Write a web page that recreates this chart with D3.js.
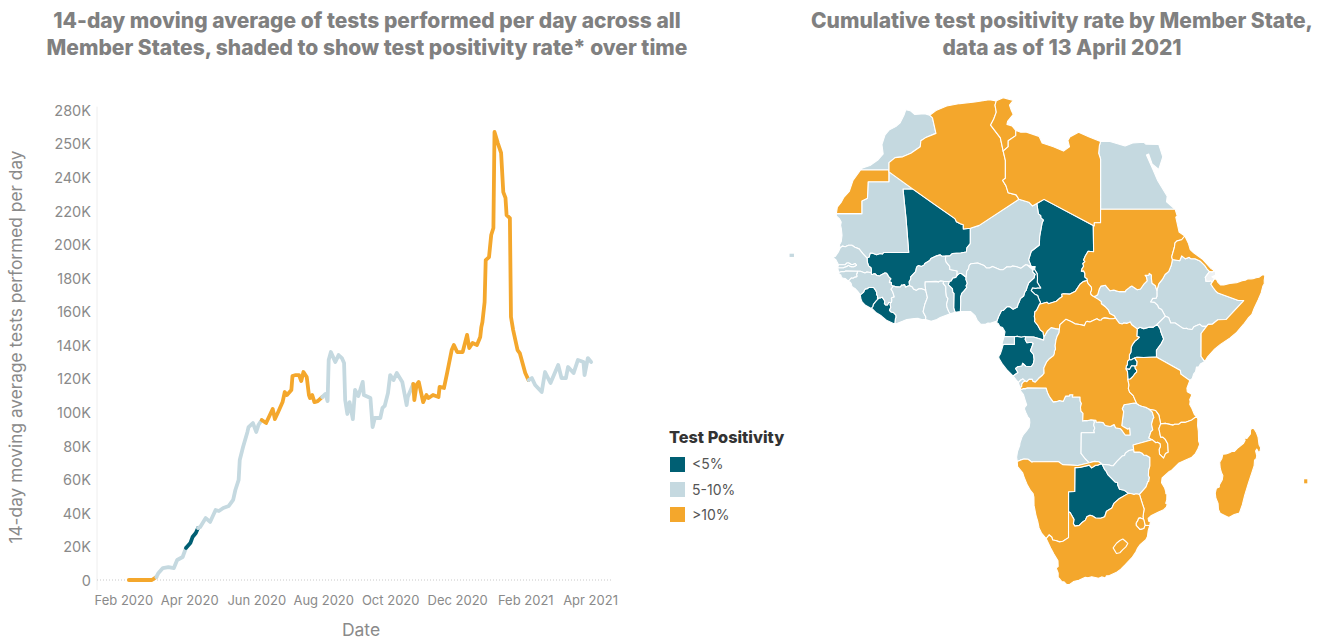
<!DOCTYPE html>
<html><head><meta charset="utf-8">
<script src="https://cdn.jsdelivr.net/npm/d3@7"></script>
<style>
html,body{margin:0;padding:0;background:#fff;overflow:hidden}
svg{display:block}
text{font-family:"Inter","Liberation Sans",sans-serif}
</style></head><body><svg id="c" width="1327" height="639"></svg>
<script>
// ---------- line chart data ----------
const chartStart = "2020-02-01";
const days = [5,26,30,32,36,41,46,49,54,57,61,63,66,68,70,75,79,84,87,91,96,100,102,105,106,109,113,114,118,121,123,126,130,136,138,141,145,147,149,153,154,157,160,162,164,167,169,170,172,174,177,181,184,186,187,189,193,196,199,201,202,204,206,209,211,214,218,219,223,225,227,229,234,236,238,241,243,246,249,254,258,259,264,265,267,269,273,276,278,282,287,288,292,295,299,301,304,309,313,315,318,322,325,326,327,329,330,333,335,337,338,341,344,346,348,349,352,353,355,359,361,366,369,372,375,381,384,389,396,399,403,405,410,414,419,420,423,426];
const tests = [0,0,1800,4200,7100,7700,7100,11900,13700,19100,22000,25600,28000,31000,31600,36900,34600,41700,41100,42900,44100,47700,53600,59600,71500,79200,88200,91100,93500,88200,92300,95300,93500,101900,95900,100100,106000,112000,110200,113200,121500,122100,122100,118500,123900,120900,110200,108400,110200,106000,106600,109000,110800,106600,131100,135800,129900,134000,132200,129300,107200,98900,106000,95900,113200,109600,118000,110200,109000,108400,91100,96500,96500,102500,103700,111400,122100,119100,123300,118000,104200,109000,116800,107200,116200,118000,106000,110200,108400,110200,109000,115000,114400,123900,137000,140000,135800,135800,146000,138200,141200,140000,144800,150700,153700,165600,190600,192400,205500,209700,266900,260300,254400,231100,227600,217400,215600,156700,148900,137000,135200,123300,119100,120300,116200,112000,123900,117400,128100,120300,120300,126900,123300,131100,129900,122100,132200,129900];
const bandBreaks = [[0,">10%"],[31,"5-10%"],[58,"<5%"],[69,"5-10%"],[127,">10%"],[182,"5-10%"],[265,">10%"],[370,"5-10%"]];
const yTicks = [0,20000,40000,60000,80000,100000,120000,140000,160000,180000,200000,220000,240000,260000,280000];
const yTickLabels = ["0","20K","40K","60K","80K","100K","120K","140K","160K","180K","200K","220K","240K","250K","280K"];
const xTicks = ["2020-02-01","2020-04-01","2020-06-01","2020-08-01","2020-10-01","2020-12-01","2021-02-01","2021-04-01"];
const bands = ["<5%","5-10%",">10%"];
const bandColors = ["#005f73","#c5d9e0","#f4a72c"];

// ---------- map data (lon, lat) ----------
const westernSahara=[[-13.2,27.67],[-8.7,27.67],[-8.7,26],[-12,26],[-12.1,23.6],[-13,23.2],[-13,21.35],[-17.05,21.35],[-16.9,22.3],[-16.3,23],[-15.9,23.7],[-15,24.6],[-14.4,26.2]];
const morocco=[[-6,35.8],[-5.3,35.7],[-4.6,35.2],[-3,35.3],[-2.2,35.1],[-1.75,34.75],[-1.2,32.7],[-2.9,32.1],[-3.6,31.7],[-3.7,30.9],[-5.2,30],[-6.5,29.5],[-7.7,29.4],[-8.67,28.7],[-8.67,27.67],[-13.2,27.67],[-12.9,27.95],[-11.7,28.3],[-10.4,29.1],[-9.6,29.9],[-9.8,31.2],[-9.3,32.5],[-8.6,33.2],[-7.6,33.6],[-6.9,34.1],[-6.3,35.1]];
const algeria=[[-2.2,35.1],[-1.2,35.7],[0.5,36.3],[2.6,36.6],[5,36.8],[7.3,37.1],[8.4,36.95],[8.2,36.4],[8.4,35.5],[8,34.6],[7.5,33.8],[9.05,32.1],[9.5,30.3],[9.85,29],[9.85,26.5],[9.4,26.2],[9.95,25.4],[10.3,24.4],[11.56,24.1],[12,23.47],[5.68,19.6],[4.27,19.16],[3.16,19.06],[3.15,19.69],[2.68,19.86],[2.06,20.14],[1.82,20.61],[-1.55,22.79],[-4.92,24.97],[-8.67,27.4],[-8.67,28.7],[-7.7,29.4],[-6.5,29.5],[-5.2,30],[-3.7,30.9],[-3.6,31.7],[-2.9,32.1],[-1.2,32.7],[-1.75,34.75]];
const tunisia=[[8.4,36.95],[9.5,37.35],[10.2,37.2],[11.1,37],[10.5,36.4],[10.8,35.7],[11.1,35.2],[10.2,34.3],[10.1,33.9],[10.9,33.7],[11.5,33.1],[11.5,32.4],[10.3,31.7],[10.3,30.9],[9.5,30.3],[9.05,32.1],[7.5,33.8],[8,34.6],[8.4,35.5],[8.2,36.4]];
const libya=[[11.5,33.1],[12.3,32.85],[13.1,32.9],[15.2,32.3],[15.7,31.4],[17.5,30.9],[19.1,30.3],[20.05,30.9],[19.8,31.75],[20.1,32.2],[21.5,32.85],[23.2,32.2],[25,31.6],[24.8,31],[24.7,30],[25,29.2],[25,22],[25,20],[24,20],[24,19.5],[16,23.45],[14.85,22.86],[14.14,22.49],[13.58,23.04],[12,23.47],[11.56,24.1],[10.3,24.4],[9.95,25.4],[9.4,26.2],[9.85,26.5],[9.85,29],[9.5,30.3],[10.3,30.9],[10.3,31.7],[11.5,32.4]];
const egypt=[[25,31.6],[26.5,31.6],[28.9,31],[30.1,31.4],[31.9,31.5],[32.2,31.25],[34.27,31.2],[34.9,29.5],[34.26,27.75],[33.2,28.5],[32.65,29.9],[32.3,29.75],[33.35,27.7],[34.1,26.15],[35.6,23.9],[35.5,23.1],[36.87,22],[25,22],[25,29.2],[24.7,30],[24.8,31]];
const sudan=[[25,22],[36.87,22],[37.2,21],[36.97,20.84],[37.5,18.6],[38.41,18],[37.9,17.43],[37.17,17.26],[36.85,16.96],[36.75,16.29],[36.32,14.82],[36.43,14.42],[36.27,13.56],[35.86,12.58],[35.26,12.08],[34.83,11.32],[34.26,10.63],[33.96,9.58],[33.72,10.33],[33.2,10.72],[33.09,11.44],[33.09,12],[32.74,12.25],[32.67,11.99],[32.07,11.97],[32.3,11.68],[32.4,11.08],[31.85,10.53],[31.35,9.81],[30.84,9.71],[29.97,10.29],[29.62,10.08],[29,9.6],[28.97,9.4],[27.97,9.4],[27.11,9.64],[26.48,9.55],[25.96,10.14],[25.79,10.41],[25.07,10.27],[24.79,9.81],[24.54,8.92],[24.19,8.73],[23.89,8.62],[23.81,8.67],[23.46,8.95],[23.39,9.27],[23.56,9.68],[23.55,10.09],[22.98,10.71],[22.86,11.14],[22.88,11.38],[22.5,11.68],[22.5,12.26],[22.29,12.65],[21.94,12.59],[22.04,12.96],[22.3,13.37],[22.18,13.79],[22.51,14.09],[22.3,14.33],[22.57,14.94],[23.02,15.68],[23.89,15.61],[23.84,19.58],[24,19.5],[24,20],[25,20]];
const eritrea=[[36.43,14.42],[36.32,14.82],[36.75,16.29],[36.85,16.96],[37.17,17.26],[37.9,17.43],[38.41,18],[38.99,16.84],[39.27,15.92],[39.81,15.44],[41.18,14.49],[42.59,13],[43.08,12.7],[42.78,12.46],[42.35,12.54],[42,12.87],[41.6,13.45],[40.9,14.12],[40.03,14.52],[39.34,14.53],[39.1,14.74],[38.51,14.51],[37.91,14.96],[37.59,14.21]];
const djibouti=[[43.08,12.7],[43.32,12.39],[43.29,11.97],[42.72,11.74],[43.15,11.46],[42.78,10.93],[42.55,11.1],[42.31,11.03],[41.76,11.05],[41.74,11.36],[41.66,11.63],[42,12.1],[42.35,12.54],[42.78,12.46]];
const ethiopia=[[42.35,12.54],[42,12.1],[41.66,11.63],[41.74,11.36],[41.76,11.05],[42.31,11.03],[42.55,11.1],[42.78,10.93],[42.56,10.57],[42.93,10.02],[43.3,9.54],[43.68,9.18],[46.95,8],[47.79,8],[44.96,5],[43.66,4.96],[42.77,4.25],[42.13,4.23],[41.86,3.92],[41.17,3.92],[40.77,4.26],[39.85,3.84],[39.56,3.42],[38.89,3.5],[38.67,3.62],[38.44,3.59],[38.12,3.6],[36.86,4.45],[36.16,4.45],[35.82,5.34],[35.3,5.51],[34.71,6.59],[34.25,6.83],[34.08,7.23],[33.57,7.71],[32.95,7.78],[33.29,8.35],[33.83,8.38],[33.97,8.68],[33.96,9.58],[34.26,10.63],[34.83,11.32],[35.26,12.08],[35.86,12.58],[36.27,13.56],[36.43,14.42],[37.59,14.21],[37.91,14.96],[38.51,14.51],[39.1,14.74],[39.34,14.53],[40.03,14.52],[40.9,14.12],[41.6,13.45],[42,12.87]];
const somalia=[[41.59,-1.68],[40.99,-0.86],[41,2.78],[41.86,3.92],[42.13,4.23],[42.77,4.25],[43.66,4.96],[44.96,5],[47.79,8],[46.95,8],[43.68,9.18],[43.3,9.54],[42.93,10.02],[42.56,10.57],[42.78,10.93],[43.15,11.46],[43.47,11.28],[43.67,10.86],[44.12,10.45],[44.61,10.44],[45.56,10.7],[46.65,10.82],[47.53,11.13],[48.02,11.19],[48.38,11.38],[48.95,11.41],[49.27,11.43],[49.73,11.58],[50.26,11.68],[50.73,12.02],[51.11,12.02],[51.13,11.75],[51.04,11.17],[51.05,10.64],[50.83,10.28],[50.55,9.2],[50.07,8.08],[49.45,6.8],[49.07,5.8],[48.59,5.34],[47.74,4.22],[46.56,2.86],[45.56,2.05],[44.07,1.05],[43.14,0.29],[42.04,-0.92]];
const southSudan=[[33.96,9.58],[33.97,8.68],[33.83,8.38],[33.29,8.35],[32.95,7.78],[33.57,7.71],[34.08,7.23],[34.25,6.83],[34.71,6.59],[35.3,5.51],[34.62,4.85],[34,4.25],[33.39,3.79],[32.69,3.79],[31.88,3.56],[31.25,3.78],[30.83,3.51],[29.95,4.17],[29.72,4.6],[29.16,4.39],[28.7,4.46],[28.43,4.29],[27.98,4.41],[27.37,5.23],[27.21,5.55],[26.47,5.95],[26.21,6.55],[25.8,6.98],[25.12,7.5],[25.11,7.83],[24.57,8.23],[23.89,8.62],[24.19,8.73],[24.54,8.92],[24.79,9.81],[25.07,10.27],[25.79,10.41],[25.96,10.14],[26.48,9.55],[27.11,9.64],[27.97,9.4],[28.97,9.4],[29,9.6],[29.62,10.08],[29.97,10.29],[30.84,9.71],[31.35,9.81],[31.85,10.53],[32.4,11.08],[32.3,11.68],[32.07,11.97],[32.67,11.99],[32.74,12.25],[33.09,12],[33.09,11.44],[33.2,10.72],[33.72,10.33]];
const kenya=[[39.2,-4.68],[37.77,-3.68],[37.7,-3.1],[34.07,-1.06],[33.9,-0.95],[33.89,0.11],[34.18,0.52],[34.67,1.18],[35.04,1.91],[34.6,3.05],[34.48,3.56],[34,4.25],[34.62,4.85],[35.3,5.51],[35.82,5.34],[36.16,4.45],[36.86,4.45],[38.12,3.6],[38.44,3.59],[38.67,3.62],[38.89,3.5],[39.56,3.42],[39.85,3.84],[40.77,4.26],[41.17,3.92],[41.86,3.92],[41,2.78],[40.99,-0.86],[41.59,-1.68],[40.88,-2.08],[40.64,-2.5],[40.26,-2.57],[40.12,-3.28],[39.8,-3.68],[39.6,-4.35]];
const uganda=[[33.9,-0.95],[31.87,-1.03],[30.77,-1.01],[30.42,-1.13],[29.82,-1.44],[29.58,-1.34],[29.59,-0.59],[29.82,-0.21],[29.88,0.6],[30.09,1.06],[30.47,1.58],[30.85,1.85],[31.17,2.2],[30.77,2.34],[30.83,3.51],[31.25,3.78],[31.88,3.56],[32.69,3.79],[33.39,3.79],[34,4.25],[34.48,3.56],[34.6,3.05],[35.04,1.91],[34.67,1.18],[34.18,0.52],[33.89,0.11]];
const rwanda=[[30.42,-1.13],[30.82,-1.7],[30.76,-2.29],[30.47,-2.41],[29.94,-2.35],[29.63,-2.92],[29.02,-2.84],[29.12,-2.29],[29.25,-2.22],[29.29,-1.62],[29.58,-1.34],[29.82,-1.44]];
const burundi=[[30.47,-2.41],[30.53,-2.81],[30.74,-3.03],[30.75,-3.36],[30.51,-3.57],[30.12,-4.09],[29.75,-4.45],[29.34,-4.5],[29.28,-3.29],[29.02,-2.84],[29.63,-2.92],[29.94,-2.35]];
const tanzania=[[33.9,-0.95],[34.07,-1.06],[37.7,-3.1],[37.77,-3.68],[39.2,-4.68],[38.74,-5.91],[38.8,-6.48],[39.44,-6.84],[39.47,-7.1],[39.19,-7.7],[39.25,-8.01],[39.19,-8.49],[39.54,-9.11],[39.95,-10.1],[40.32,-10.32],[39.52,-10.9],[38.43,-11.29],[37.83,-11.27],[37.47,-11.57],[36.78,-11.59],[36.51,-11.72],[35.31,-11.44],[34.56,-11.52],[34.28,-10.16],[33.94,-9.69],[33.74,-9.42],[32.76,-9.23],[32.19,-8.93],[31.56,-8.76],[31.16,-8.59],[30.74,-8.34],[30.2,-7.08],[29.62,-6.52],[29.42,-5.94],[29.52,-5.42],[29.34,-4.5],[29.75,-4.45],[30.12,-4.09],[30.51,-3.57],[30.75,-3.36],[30.74,-3.03],[30.53,-2.81],[30.47,-2.41],[30.76,-2.29],[30.82,-1.7],[30.42,-1.13],[30.77,-1.01],[31.87,-1.03]];
const drc=[[30.83,3.51],[30.77,2.34],[31.17,2.2],[30.85,1.85],[30.47,1.58],[30.09,1.06],[29.88,0.6],[29.82,-0.21],[29.59,-0.59],[29.58,-1.34],[29.29,-1.62],[29.25,-2.22],[29.12,-2.29],[29.02,-2.84],[29.28,-3.29],[29.34,-4.5],[29.52,-5.42],[29.42,-5.94],[29.62,-6.52],[30.2,-7.08],[30.74,-8.34],[30.35,-8.24],[28.73,-8.53],[28.45,-9.16],[28.67,-9.61],[28.5,-10.79],[28.37,-11.79],[28.64,-11.97],[29.34,-12.36],[29.62,-12.18],[29.7,-13.26],[28.93,-13.25],[28.52,-12.7],[28.16,-12.27],[27.39,-12.13],[27.16,-11.61],[26.55,-11.92],[25.75,-11.78],[25.42,-11.33],[24.78,-11.24],[24.31,-11.26],[24.26,-10.95],[23.46,-10.87],[22.84,-11.02],[22.4,-10.99],[22.16,-11.08],[22.21,-9.89],[21.88,-9.52],[21.8,-8.91],[21.95,-8.31],[21.75,-7.92],[21.73,-7.29],[20.51,-7.3],[20.6,-6.94],[20.09,-6.94],[20.04,-7.12],[19.42,-7.16],[19.17,-7.74],[19.02,-7.99],[18.46,-7.85],[18.13,-7.99],[17.47,-8.07],[17.09,-7.55],[16.86,-7.22],[16.57,-6.62],[16.33,-5.88],[13.38,-5.86],[13.02,-5.98],[12.74,-5.95],[12.32,-6.1],[12.18,-5.79],[12.44,-5.68],[12.47,-5.25],[12.63,-4.99],[12.99,-4.78],[13.26,-4.88],[13.6,-4.5],[14.14,-4.51],[14.21,-4.79],[14.58,-4.97],[15.17,-4.34],[15.75,-3.86],[16.01,-3.54],[15.97,-2.71],[16.41,-1.74],[16.87,-1.23],[17.52,-0.74],[17.64,-0.42],[17.66,-0.06],[17.83,0.29],[17.77,0.86],[17.9,1.74],[18.09,2.37],[18.39,2.9],[18.45,3.5],[18.54,4.2],[19.47,5.03],[20.29,4.69],[20.93,4.32],[21.66,4.22],[22.41,4.03],[22.7,4.63],[22.84,4.71],[23.3,4.61],[24.41,5.11],[24.8,4.9],[25.13,4.93],[25.28,5.17],[25.65,5.26],[26.4,5.15],[27.04,5.13],[27.37,5.23],[27.98,4.41],[28.43,4.29],[28.7,4.46],[29.16,4.39],[29.72,4.6],[29.95,4.17]];
const car=[[27.37,5.23],[27.21,5.55],[26.47,5.95],[26.21,6.55],[25.8,6.98],[25.12,7.5],[25.11,7.83],[24.57,8.23],[23.89,8.62],[23.81,8.67],[23.46,8.95],[23.39,9.27],[23.56,9.68],[23.55,10.09],[22.98,10.71],[22.86,11.14],[22.23,10.97],[21.72,10.57],[21,9.48],[20.06,9.01],[19.09,9.07],[18.81,8.98],[18.91,8.63],[18.39,8.28],[17.96,7.89],[16.71,7.51],[16.46,7.73],[15.28,7.42],[14.78,6.41],[14.54,6.23],[14.46,5.45],[14.56,5.03],[14.48,4.73],[15.04,4.03],[15.41,3.34],[15.86,3.01],[15.91,2.56],[16.01,2.27],[16.54,3.2],[17.13,3.73],[17.81,3.56],[18.45,3.5],[18.54,4.2],[19.47,5.03],[20.29,4.69],[20.93,4.32],[21.66,4.22],[22.41,4.03],[22.7,4.63],[22.84,4.71],[23.3,4.61],[24.41,5.11],[24.8,4.9],[25.13,4.93],[25.28,5.17],[25.65,5.26],[26.4,5.15],[27.04,5.13]];
const chad=[[22.86,11.14],[22.88,11.38],[22.5,11.68],[22.5,12.26],[22.29,12.65],[21.94,12.59],[22.04,12.96],[22.3,13.37],[22.18,13.79],[22.51,14.09],[22.3,14.33],[22.57,14.94],[23.02,15.68],[23.89,15.61],[23.84,19.58],[16,23.45],[14.85,22.86],[15.1,21.31],[15.47,21.05],[15.49,20.73],[15.9,20.39],[15.69,19.96],[15.3,17.93],[15.25,16.63],[13.97,15.68],[13.54,14.37],[13.95,13.35],[14.6,13.33],[14.5,12.86],[14.9,12.22],[14.96,11.56],[14.92,10.89],[15.47,9.98],[14.91,9.99],[14.63,9.92],[14.17,10.02],[13.95,9.55],[14.54,9],[14.98,8.8],[15.12,8.38],[15.44,7.69],[15.28,7.42],[16.46,7.73],[16.71,7.51],[17.96,7.89],[18.39,8.28],[18.91,8.63],[18.81,8.98],[19.09,9.07],[20.06,9.01],[21,9.48],[21.72,10.57],[22.23,10.97]];
const cameroon=[[14.5,12.86],[14.9,12.22],[14.96,11.56],[14.92,10.89],[15.47,9.98],[14.91,9.99],[14.63,9.92],[14.17,10.02],[13.95,9.55],[14.54,9],[14.98,8.8],[15.12,8.38],[15.44,7.69],[15.28,7.42],[14.78,6.41],[14.54,6.23],[14.46,5.45],[14.56,5.03],[14.48,4.73],[15.04,4.03],[15.41,3.34],[15.86,3.01],[15.91,2.56],[16.01,2.27],[15.94,1.73],[14.34,2.23],[13.08,2.27],[12.95,2.32],[12.36,2.19],[11.75,2.33],[11.28,2.26],[9.65,2.28],[9.79,3.07],[9.4,3.73],[8.95,3.9],[8.74,4.35],[8.49,4.5],[8.5,4.77],[8.76,5.48],[9.23,6.44],[9.52,6.45],[10.12,7.04],[10.5,7.06],[11.06,6.64],[11.75,6.98],[11.84,7.4],[12.06,7.8],[12.22,8.31],[12.75,8.72],[12.96,9.42],[13.17,9.64],[13.31,10.16],[13.57,10.8],[14.42,11.57],[14.47,11.9],[14.58,12.09],[14.18,12.48],[14.21,12.8]];
const nigeria=[[2.69,6.26],[2.75,7.87],[2.72,8.51],[2.91,9.14],[3.22,9.44],[3.71,10.06],[3.6,10.33],[3.8,10.73],[3.57,11.33],[3.61,11.66],[3.68,12.55],[3.97,12.96],[4.11,13.53],[4.37,13.75],[5.44,13.87],[6.45,13.49],[6.82,13.12],[7.33,13.1],[7.8,13.34],[9.01,12.83],[9.52,12.85],[10.11,13.28],[10.7,13.25],[10.99,13.39],[11.53,13.33],[12.3,13.04],[13.08,13.6],[13.32,13.56],[14.21,12.8],[14.18,12.48],[14.58,12.09],[14.47,11.9],[14.42,11.57],[13.57,10.8],[13.31,10.16],[13.17,9.64],[12.96,9.42],[12.75,8.72],[12.22,8.31],[12.06,7.8],[11.84,7.4],[11.75,6.98],[11.06,6.64],[10.5,7.06],[10.12,7.04],[9.52,6.45],[9.23,6.44],[8.76,5.48],[8.5,4.77],[7.46,4.41],[7.08,4.46],[6.7,4.24],[5.9,4.26],[5.36,4.89],[5.03,5.61],[4.33,6.27],[3.57,6.26]];
const niger=[[2.15,11.94],[2.18,12.63],[1.02,12.85],[0.99,13.34],[0.43,13.99],[0.3,14.44],[0.37,14.93],[1.02,14.97],[1.39,15.32],[2.75,15.41],[3.64,15.57],[3.72,16.18],[4.27,16.85],[4.27,19.16],[5.68,19.6],[12,23.47],[13.58,23.04],[14.14,22.49],[14.85,22.86],[15.1,21.31],[15.47,21.05],[15.49,20.73],[15.9,20.39],[15.69,19.96],[15.3,17.93],[15.25,16.63],[13.97,15.68],[13.54,14.37],[13.95,13.35],[13.32,13.56],[13.08,13.6],[12.3,13.04],[11.53,13.33],[10.99,13.39],[10.7,13.25],[10.11,13.28],[9.52,12.85],[9.01,12.83],[7.8,13.34],[7.33,13.1],[6.82,13.12],[6.45,13.49],[5.44,13.87],[4.37,13.75],[4.11,13.53],[3.97,12.96],[3.68,12.55],[3.61,11.66],[2.85,12.24],[2.49,12.23]];
const mali=[[-12.17,14.62],[-11.83,14.8],[-11.67,15.39],[-11.35,15.41],[-10.65,15.13],[-10.09,15.33],[-9.7,15.26],[-9.55,15.49],[-5.54,15.5],[-5.97,20.64],[-6.45,24.96],[-4.92,24.97],[-1.55,22.79],[1.82,20.61],[2.06,20.14],[2.68,19.86],[3.15,19.69],[3.16,19.06],[4.27,19.16],[4.27,16.85],[3.72,16.18],[3.64,15.57],[2.75,15.41],[1.39,15.32],[1.02,14.97],[0.37,14.93],[-0.27,14.92],[-0.52,15.12],[-1.07,14.97],[-2,14.56],[-2.19,14.25],[-2.97,13.8],[-3.1,13.54],[-3.52,13.34],[-4.01,13.47],[-4.28,13.23],[-4.43,12.54],[-5.22,11.71],[-5.2,11.38],[-5.47,10.95],[-5.4,10.37],[-5.82,10.22],[-6.05,10.1],[-6.21,10.52],[-6.49,10.41],[-6.67,10.43],[-6.85,10.14],[-7.62,10.15],[-7.9,10.3],[-8.03,10.21],[-8.34,10.49],[-8.28,10.79],[-8.41,10.91],[-8.62,10.81],[-8.58,11.14],[-8.38,11.39],[-8.79,11.81],[-8.91,12.09],[-9.13,12.31],[-9.33,12.33],[-9.57,12.19],[-9.89,12.06],[-10.17,11.84],[-10.59,11.92],[-10.87,12.18],[-11.04,12.21],[-11.3,12.08],[-11.46,12.08],[-11.51,12.44],[-11.47,12.75],[-11.55,13.14],[-11.93,13.42],[-12.12,13.99]];
const mauritania=[[-17.05,21.35],[-13,21.35],[-13,23.2],[-12.1,23.6],[-12,26],[-8.7,26],[-8.67,27.4],[-4.92,24.97],[-6.45,24.96],[-5.97,20.64],[-5.54,15.5],[-9.55,15.49],[-9.7,15.26],[-10.09,15.33],[-10.65,15.13],[-11.35,15.41],[-11.67,15.39],[-11.83,14.8],[-12.17,14.62],[-12.83,15.3],[-13.44,16.04],[-14.1,16.3],[-14.58,16.6],[-15.14,16.59],[-15.62,16.37],[-16.12,16.46],[-16.46,16.14],[-16.55,16.67],[-16.27,17.17],[-16.15,18.11],[-16.26,19.1],[-16.38,19.59],[-16.28,20.09],[-16.54,20.57],[-17.06,21]];
const senegal=[[-16.71,13.59],[-17.13,14.37],[-17.63,14.73],[-17.19,14.92],[-16.7,15.62],[-16.46,16.14],[-16.12,16.46],[-15.62,16.37],[-15.14,16.59],[-14.58,16.6],[-14.1,16.3],[-13.44,16.04],[-12.83,15.3],[-12.17,14.62],[-12.12,13.99],[-11.93,13.42],[-11.55,13.14],[-11.47,12.75],[-11.51,12.44],[-11.66,12.39],[-12.2,12.47],[-12.5,12.33],[-13.22,12.58],[-13.7,12.59],[-15.55,12.63],[-15.82,12.52],[-16.15,12.55],[-16.68,12.38],[-16.84,13.15],[-15.93,13.13],[-15.69,13.27],[-15.51,13.28],[-15.14,13.51],[-14.71,13.3],[-14.28,13.28],[-13.84,13.51],[-14.05,13.79],[-14.38,13.63],[-14.69,13.63],[-15.08,13.88],[-15.4,13.86],[-15.62,13.62]];
const gambia=[[-16.84,13.15],[-16.71,13.59],[-15.62,13.62],[-15.4,13.86],[-15.08,13.88],[-14.69,13.63],[-14.38,13.63],[-14.05,13.79],[-13.84,13.51],[-14.28,13.28],[-14.71,13.3],[-15.14,13.51],[-15.51,13.28],[-15.69,13.27],[-15.93,13.13]];
const guineaBissau=[[-16.68,12.38],[-16.15,12.55],[-15.82,12.52],[-15.55,12.63],[-13.7,12.59],[-13.72,12.25],[-13.83,12.14],[-13.74,11.81],[-13.9,11.68],[-14.12,11.68],[-14.38,11.51],[-14.69,11.53],[-15.13,11.04],[-15.66,11.46],[-16.09,11.52],[-16.31,11.81],[-16.31,11.96],[-16.61,12.17]];
const guinea=[[-13.7,12.59],[-13.22,12.58],[-12.5,12.33],[-12.2,12.47],[-11.66,12.39],[-11.51,12.44],[-11.46,12.08],[-11.3,12.08],[-11.04,12.21],[-10.87,12.18],[-10.59,11.92],[-10.17,11.84],[-9.89,12.06],[-9.57,12.19],[-9.33,12.33],[-9.13,12.31],[-8.91,12.09],[-8.79,11.81],[-8.38,11.39],[-8.58,11.14],[-8.62,10.81],[-8.41,10.91],[-8.28,10.79],[-8.34,10.49],[-8.03,10.21],[-8.34,9.79],[-8.08,9.38],[-7.83,8.58],[-8.2,8.46],[-8.3,8.32],[-8.22,8.12],[-8.28,7.69],[-8.44,7.69],[-8.72,7.71],[-8.93,7.31],[-9.21,7.31],[-9.4,7.53],[-9.34,7.93],[-9.76,8.54],[-10.02,8.43],[-10.23,8.41],[-10.51,8.35],[-10.49,8.72],[-10.65,8.98],[-10.62,9.27],[-10.84,9.69],[-11.12,10.05],[-11.92,10.05],[-12.15,9.86],[-12.43,9.84],[-12.6,9.62],[-12.71,9.34],[-13.25,8.9],[-13.69,9.49],[-14.07,9.89],[-14.33,10.02],[-14.58,10.21],[-14.69,10.66],[-14.84,10.88],[-15.13,11.04],[-14.69,11.53],[-14.38,11.51],[-14.12,11.68],[-13.9,11.68],[-13.74,11.81],[-13.83,12.14],[-13.72,12.25]];
const sierraLeone=[[-13.25,8.9],[-12.71,9.34],[-12.6,9.62],[-12.43,9.84],[-12.15,9.86],[-11.92,10.05],[-11.12,10.05],[-10.84,9.69],[-10.62,9.27],[-10.65,8.98],[-10.49,8.72],[-10.51,8.35],[-10.23,8.41],[-10.7,7.94],[-11.15,7.4],[-11.2,7.11],[-11.44,6.79],[-11.71,6.86],[-12.43,7.26],[-12.95,7.8],[-13.12,8.16]];
const liberia=[[-8.44,7.69],[-8.49,7.4],[-8.39,6.91],[-8.6,6.47],[-8.31,6.19],[-7.99,6.13],[-7.57,5.71],[-7.54,5.31],[-7.64,5.19],[-7.71,4.36],[-7.97,4.36],[-9,4.83],[-9.91,5.59],[-10.77,6.14],[-11.44,6.79],[-11.2,7.11],[-11.15,7.4],[-10.7,7.94],[-10.23,8.41],[-10.02,8.43],[-9.76,8.54],[-9.34,7.93],[-9.4,7.53],[-9.21,7.31],[-8.93,7.31],[-8.72,7.71]];
const coteDIvoire=[[-8.03,10.21],[-7.9,10.3],[-7.62,10.15],[-6.85,10.14],[-6.67,10.43],[-6.49,10.41],[-6.21,10.52],[-6.05,10.1],[-5.82,10.22],[-5.4,10.37],[-4.95,10.15],[-4.78,9.82],[-4.33,9.61],[-3.98,9.86],[-3.51,9.9],[-2.83,9.64],[-2.56,8.49],[-2.98,7.38],[-3.24,6.25],[-2.81,5.39],[-2.86,4.99],[-3.31,4.98],[-4.01,5.18],[-4.65,5.17],[-5.83,4.99],[-6.53,4.71],[-7.52,4.34],[-7.71,4.36],[-7.64,5.19],[-7.54,5.31],[-7.57,5.71],[-7.99,6.13],[-8.31,6.19],[-8.6,6.47],[-8.39,6.91],[-8.49,7.4],[-8.44,7.69],[-8.28,7.69],[-8.22,8.12],[-8.3,8.32],[-8.2,8.46],[-7.83,8.58],[-8.08,9.38],[-8.34,9.79]];
const ghana=[[0.02,11.02],[-0.05,10.71],[0.37,10.19],[0.37,9.47],[0.46,8.68],[0.71,8.31],[0.49,7.41],[0.57,6.91],[0.84,6.28],[1.06,5.93],[-0.51,5.34],[-1.06,5],[-1.96,4.71],[-2.86,4.99],[-2.81,5.39],[-3.24,6.25],[-2.98,7.38],[-2.56,8.49],[-2.83,9.64],[-2.96,10.4],[-2.94,10.96],[-1.2,11.01],[-0.76,10.94],[-0.44,11.1]];
const togo=[[0.9,10.99],[0.77,10.47],[1.08,10.18],[1.43,9.83],[1.46,9.33],[1.66,9.13],[1.62,6.83],[1.86,6.14],[1.06,5.93],[0.84,6.28],[0.57,6.91],[0.49,7.41],[0.71,8.31],[0.46,8.68],[0.37,9.47],[0.37,10.19],[-0.05,10.71],[0.02,11.02]];
const benin=[[2.69,6.26],[1.86,6.14],[1.62,6.83],[1.66,9.13],[1.46,9.33],[1.43,9.83],[1.08,10.18],[0.77,10.47],[0.9,10.99],[1.24,11.11],[1.45,11.55],[1.94,11.64],[2.15,11.94],[2.49,12.23],[2.85,12.24],[3.61,11.66],[3.57,11.33],[3.8,10.73],[3.6,10.33],[3.71,10.06],[3.22,9.44],[2.91,9.14],[2.72,8.51],[2.75,7.87]];
const burkinaFaso=[[-5.4,10.37],[-5.47,10.95],[-5.2,11.38],[-5.22,11.71],[-4.43,12.54],[-4.28,13.23],[-4.01,13.47],[-3.52,13.34],[-3.1,13.54],[-2.97,13.8],[-2.19,14.25],[-2,14.56],[-1.07,14.97],[-0.52,15.12],[-0.27,14.92],[0.37,14.93],[0.3,14.44],[0.43,13.99],[0.99,13.34],[1.02,12.85],[2.18,12.63],[2.15,11.94],[1.94,11.64],[1.45,11.55],[1.24,11.11],[0.9,10.99],[0.02,11.02],[-0.44,11.1],[-0.76,10.94],[-1.2,11.01],[-2.94,10.96],[-2.96,10.4],[-2.83,9.64],[-3.51,9.9],[-3.98,9.86],[-4.33,9.61],[-4.78,9.82],[-4.95,10.15]];
const gabon=[[11.28,2.26],[11.75,2.33],[12.36,2.19],[12.95,2.32],[13.08,2.27],[13,1.83],[13.28,1.31],[14.03,1.4],[14.28,1.2],[13.84,0.04],[14.32,-0.55],[14.43,-1.33],[14.3,-2],[13.99,-2.47],[13.11,-2.43],[12.58,-1.95],[12.5,-2.39],[11.82,-2.51],[11.48,-2.77],[11.86,-3.43],[11.09,-3.98],[10.07,-2.97],[9.41,-2.14],[8.8,-1.11],[8.83,-0.78],[9.05,-0.46],[9.29,0.27],[9.49,1.01],[9.83,1.07],[11.29,1.06]];
const eqGuinea=[[9.49,1.01],[9.31,1.16],[9.65,2.28],[11.28,2.26],[11.29,1.06],[9.83,1.07]];
const congo=[[12.99,-4.78],[12.62,-4.44],[12.32,-4.61],[11.91,-5.04],[11.09,-3.98],[11.86,-3.43],[11.48,-2.77],[11.82,-2.51],[12.5,-2.39],[12.58,-1.95],[13.11,-2.43],[13.99,-2.47],[14.3,-2],[14.43,-1.33],[14.32,-0.55],[13.84,0.04],[14.28,1.2],[14.03,1.4],[13.28,1.31],[13,1.83],[13.08,2.27],[14.34,2.23],[15.94,1.73],[16.01,2.27],[16.54,3.2],[17.13,3.73],[17.81,3.56],[18.45,3.5],[18.39,2.9],[18.09,2.37],[17.9,1.74],[17.77,0.86],[17.83,0.29],[17.66,-0.06],[17.64,-0.42],[17.52,-0.74],[16.87,-1.23],[16.41,-1.74],[15.97,-2.71],[16.01,-3.54],[15.75,-3.86],[15.17,-4.34],[14.58,-4.97],[14.21,-4.79],[14.14,-4.51],[13.6,-4.5],[13.26,-4.88]];
const angola=[[16.33,-5.88],[16.57,-6.62],[16.86,-7.22],[17.09,-7.55],[17.47,-8.07],[18.13,-7.99],[18.46,-7.85],[19.02,-7.99],[19.17,-7.74],[19.42,-7.16],[20.04,-7.12],[20.09,-6.94],[20.6,-6.94],[20.51,-7.3],[21.73,-7.29],[21.75,-7.92],[21.95,-8.31],[21.8,-8.91],[21.88,-9.52],[22.21,-9.89],[22.16,-11.08],[22.4,-10.99],[22.84,-11.02],[23.46,-10.87],[23.91,-10.93],[24.02,-11.24],[23.9,-11.72],[24.08,-12.19],[23.93,-12.57],[24.02,-12.91],[21.93,-12.9],[21.89,-16.08],[22.56,-16.9],[23.22,-17.52],[21.38,-17.93],[18.96,-17.79],[18.26,-17.31],[14.21,-17.35],[14.06,-17.42],[13.46,-16.97],[12.81,-16.94],[12.22,-17.11],[11.73,-17.3],[11.64,-16.67],[11.78,-15.79],[12.12,-14.88],[12.18,-14.45],[12.5,-13.55],[12.74,-13.14],[13.31,-12.48],[13.63,-12.04],[13.74,-11.3],[13.69,-10.73],[13.39,-10.37],[13.12,-9.77],[12.88,-9.17],[12.93,-8.96],[13.24,-8.56],[12.93,-7.6],[12.73,-6.93],[12.23,-6.29],[12.32,-6.1],[12.74,-5.95],[13.02,-5.98],[13.38,-5.86]];
const cabinda=[[12.99,-4.78],[12.63,-4.99],[12.47,-5.25],[12.44,-5.68],[12.18,-5.79],[11.91,-5.04],[12.32,-4.61],[12.62,-4.44]];
const zambia=[[30.74,-8.34],[31.16,-8.59],[31.56,-8.76],[32.19,-8.93],[32.76,-9.23],[33.23,-9.68],[33.49,-10.53],[33.32,-10.8],[33.11,-11.61],[33.31,-12.44],[32.99,-12.78],[32.69,-13.71],[33.21,-13.97],[30.18,-14.8],[30.27,-15.51],[29.52,-15.64],[28.95,-16.04],[28.83,-16.39],[28.47,-16.47],[27.6,-17.29],[27.04,-17.94],[26.71,-17.96],[26.38,-17.85],[25.26,-17.74],[25.08,-17.66],[25.08,-17.58],[24.68,-17.35],[24.03,-17.3],[23.22,-17.52],[22.56,-16.9],[21.89,-16.08],[21.93,-12.9],[24.02,-12.91],[23.93,-12.57],[24.08,-12.19],[23.9,-11.72],[24.02,-11.24],[23.91,-10.93],[24.26,-10.95],[24.31,-11.26],[24.78,-11.24],[25.42,-11.33],[25.75,-11.78],[26.55,-11.92],[27.16,-11.61],[27.39,-12.13],[28.16,-12.27],[28.52,-12.7],[28.93,-13.25],[29.7,-13.26],[29.62,-12.18],[29.34,-12.36],[28.64,-11.97],[28.37,-11.79],[28.5,-10.79],[28.67,-9.61],[28.45,-9.16],[28.73,-8.53],[30.35,-8.24]];
const malawi=[[32.76,-9.23],[33.74,-9.42],[33.94,-9.69],[34.28,-10.16],[34.56,-11.52],[34.28,-12.28],[34.56,-13.58],[34.91,-13.57],[35.27,-13.89],[35.69,-14.61],[35.77,-15.9],[35.34,-16.11],[35.03,-16.8],[34.38,-16.18],[34.31,-15.48],[34.52,-15.01],[34.46,-14.61],[34.06,-14.36],[33.79,-14.45],[33.21,-13.97],[32.69,-13.71],[32.99,-12.78],[33.31,-12.44],[33.11,-11.61],[33.32,-10.8],[33.49,-10.53],[33.23,-9.68]];
const mozambique=[[34.56,-11.52],[35.31,-11.44],[36.51,-11.72],[36.78,-11.59],[37.47,-11.57],[37.83,-11.27],[38.43,-11.29],[39.52,-10.9],[40.32,-10.32],[40.48,-10.77],[40.44,-11.76],[40.56,-12.64],[40.6,-14.2],[40.78,-14.69],[40.48,-15.41],[40.09,-16.1],[39.45,-16.72],[38.54,-17.1],[37.41,-17.59],[36.28,-18.66],[35.9,-18.84],[34.79,-19.78],[34.7,-20.5],[35.18,-21.25],[35.37,-21.84],[35.39,-22.14],[35.56,-22.09],[35.53,-23.07],[35.37,-23.54],[35.61,-23.71],[35.46,-24.12],[35.04,-24.48],[34.22,-24.82],[33.01,-25.36],[32.57,-25.73],[32.66,-26.15],[32.92,-26.22],[32.83,-26.74],[32.07,-26.73],[31.99,-26.29],[31.84,-25.84],[31.75,-25.48],[31.93,-24.37],[31.67,-23.66],[31.19,-22.25],[32.24,-21.12],[32.51,-20.4],[32.66,-20.3],[32.77,-19.72],[32.61,-19.42],[32.65,-18.67],[32.85,-17.98],[32.85,-16.71],[32.33,-16.39],[31.85,-16.32],[31.64,-16.07],[31.17,-15.86],[30.34,-15.88],[30.27,-15.51],[30.18,-14.8],[33.21,-13.97],[33.79,-14.45],[34.06,-14.36],[34.46,-14.61],[34.52,-15.01],[34.31,-15.48],[34.38,-16.18],[35.03,-16.8],[35.34,-16.11],[35.77,-15.9],[35.69,-14.61],[35.27,-13.89],[34.91,-13.57],[34.56,-13.58],[34.28,-12.28]];
const zimbabwe=[[31.19,-22.25],[30.66,-22.15],[30.32,-22.27],[29.84,-22.1],[29.43,-22.09],[28.79,-21.64],[28.02,-21.49],[27.73,-20.85],[27.72,-20.5],[27.3,-20.39],[26.16,-19.29],[25.85,-18.71],[25.65,-18.54],[25.26,-17.74],[26.38,-17.85],[26.71,-17.96],[27.04,-17.94],[27.6,-17.29],[28.47,-16.47],[28.83,-16.39],[28.95,-16.04],[29.52,-15.64],[30.27,-15.51],[30.34,-15.88],[31.17,-15.86],[31.64,-16.07],[31.85,-16.32],[32.33,-16.39],[32.85,-16.71],[32.85,-17.98],[32.65,-18.67],[32.61,-19.42],[32.77,-19.72],[32.66,-20.3],[32.51,-20.4],[32.24,-21.12]];
const botswana=[[29.43,-22.09],[28.02,-22.83],[27.12,-23.57],[26.79,-24.24],[25.94,-24.7],[25.77,-25.17],[25.66,-25.49],[25.03,-25.72],[24.21,-25.67],[23.73,-25.39],[23.31,-25.27],[22.82,-25.5],[22.58,-25.98],[22.11,-26.28],[21.61,-26.73],[20.89,-26.83],[20.67,-26.48],[20.76,-25.87],[20.17,-24.92],[19.9,-24.77],[19.9,-21.85],[20.88,-21.81],[20.91,-18.25],[21.66,-18.22],[23.2,-17.87],[23.58,-18.28],[24.22,-17.89],[24.52,-17.89],[25.08,-17.66],[25.26,-17.74],[25.65,-18.54],[25.85,-18.71],[26.16,-19.29],[27.3,-20.39],[27.72,-20.5],[27.73,-20.85],[28.02,-21.49],[28.79,-21.64]];
const namibia=[[19.9,-24.77],[19.9,-28.45],[19,-28.97],[18.46,-29.05],[17.84,-28.86],[17.39,-28.78],[17.22,-28.36],[16.82,-28.08],[16.34,-28.58],[15.6,-27.82],[15.21,-27.09],[14.99,-26.12],[14.74,-25.39],[14.41,-23.85],[14.39,-22.66],[14.26,-22.11],[13.87,-21.7],[13.35,-20.87],[12.83,-19.67],[12.61,-19.05],[11.79,-18.07],[11.73,-17.3],[12.22,-17.11],[12.81,-16.94],[13.46,-16.97],[14.06,-17.42],[14.21,-17.35],[18.26,-17.31],[18.96,-17.79],[21.38,-17.93],[23.22,-17.52],[24.03,-17.3],[24.68,-17.35],[25.08,-17.58],[25.08,-17.66],[24.52,-17.89],[24.22,-17.89],[23.58,-18.28],[23.2,-17.87],[21.66,-18.22],[20.91,-18.25],[20.88,-21.81],[19.9,-21.85]];
const southAfrica=[[16.34,-28.58],[16.82,-28.08],[17.22,-28.36],[17.39,-28.78],[17.84,-28.86],[18.46,-29.05],[19,-28.97],[19.9,-28.45],[19.9,-24.77],[20.17,-24.92],[20.76,-25.87],[20.67,-26.48],[20.89,-26.83],[21.61,-26.73],[22.11,-26.28],[22.58,-25.98],[22.82,-25.5],[23.31,-25.27],[23.73,-25.39],[24.21,-25.67],[25.03,-25.72],[25.66,-25.49],[25.77,-25.17],[25.94,-24.7],[26.79,-24.24],[27.12,-23.57],[28.02,-22.83],[29.43,-22.09],[29.84,-22.1],[30.32,-22.27],[30.66,-22.15],[31.19,-22.25],[31.67,-23.66],[31.93,-24.37],[31.75,-25.48],[31.84,-25.84],[31.33,-25.66],[31.04,-25.73],[30.95,-26.02],[30.68,-26.4],[30.69,-26.74],[31.28,-27.29],[31.87,-27.18],[32.07,-26.73],[32.83,-26.74],[32.58,-27.47],[32.46,-28.3],[32.2,-28.75],[31.33,-29.4],[30.9,-29.91],[30.62,-30.42],[30.06,-31.14],[28.93,-32.17],[28.22,-32.77],[27.46,-33.23],[26.42,-33.61],[25.91,-33.67],[25.78,-33.94],[25.17,-33.8],[24.68,-33.99],[23.59,-33.79],[22.99,-33.92],[22.57,-33.86],[21.54,-34.26],[20.69,-34.42],[20.07,-34.8],[19.62,-34.82],[19.19,-34.46],[18.86,-34.44],[18.42,-34],[18.25,-33.87],[18.25,-33.28],[17.93,-32.61],[18.25,-32.43],[18.22,-31.66],[17.57,-30.73],[17.06,-29.88]];
const lesotho=[[28.98,-28.96],[29.33,-29.26],[29.02,-29.74],[28.54,-30.13],[28.07,-30.55],[27.53,-30.65],[27,-29.88],[27.53,-29.24],[28.07,-28.85],[28.54,-28.65]];
const eswatini=[[32.07,-26.73],[31.87,-27.18],[31.28,-27.29],[30.69,-26.74],[30.68,-26.4],[30.95,-26.02],[31.04,-25.73],[31.33,-25.66],[31.84,-25.84],[31.99,-26.29]];
const madagascar=[[49.54,-12.47],[49.81,-12.9],[50.06,-13.56],[50.22,-14.76],[50.48,-15.23],[50.38,-15.71],[50.2,-16],[49.86,-15.41],[49.67,-15.71],[49.86,-16.45],[49.77,-16.88],[49.5,-17.11],[49.44,-17.95],[49.04,-19.12],[48.55,-20.5],[47.93,-22.39],[47.55,-23.78],[47.1,-24.94],[46.28,-25.18],[45.41,-25.6],[44.83,-25.35],[44.04,-25],[43.76,-24.46],[43.7,-23.57],[43.35,-22.78],[43.25,-22.06],[43.43,-21.34],[43.89,-21.16],[43.9,-20.83],[44.37,-20.07],[44.46,-19.44],[44.23,-18.96],[44.04,-18.33],[43.96,-17.41],[44.31,-16.85],[44.45,-16.22],[44.94,-16.18],[45.5,-15.97],[45.87,-15.79],[46.31,-15.78],[46.88,-15.21],[47.71,-14.59],[48,-14.09],[47.87,-13.66],[48.29,-13.78],[48.85,-13.09],[48.86,-12.49],[49.19,-12.04]];
const mauritius=[[57.4,-20],[57.9,-20],[57.9,-20.6],[57.4,-20.6]];
const caboVerde=[[-24.5,15.3],[-23.8,15.3],[-23.8,14.8],[-24.5,14.8]];

const lowBand=[mali,chad,cameroon,benin,sierraLeone,liberia,gabon,uganda,rwanda,burundi,botswana];
const midBand=[morocco,mauritania,senegal,gambia,guineaBissau,guinea,coteDIvoire,ghana,togo,burkinaFaso,niger,nigeria,egypt,ethiopia,southSudan,kenya,congo,eqGuinea,angola,cabinda,zambia,zimbabwe,caboVerde];
const highBand=[westernSahara,algeria,tunisia,libya,sudan,eritrea,somalia,car,drc,tanzania,malawi,mozambique,namibia,southAfrica,lesotho,eswatini,madagascar,mauritius];
const noDataBand=[djibouti];
const smallIslands=[mauritius,caboVerde];

const titleLeft=["14-day moving average of tests performed per day across all","Member States, shaded to show test positivity rate* over time"];
const titleRight=["Cumulative test positivity rate by Member State,","data as of 13 April 2021"];

// ---------- drawing ----------
const svg=d3.select("#c");
const grey="#8a8a8a";
const parse=d3.utcParse("%Y-%m-%d");
const base=parse(chartStart);
const dateOf=d=>d3.utcDay.offset(base,d);
const x=d3.scaleUtc().domain([parse("2020-01-08"),parse("2021-04-21")]).range([97,612]);
const y=d3.scaleLinear().domain([0,280000]).range([580,110]);
const color=d3.scaleOrdinal(bands,bandColors);

function title(lines,cx){
  const t=svg.append("text").attr("text-anchor","middle").attr("fill","#808080").attr("font-weight",800).attr("font-size",21);
  lines.forEach((l,i)=>t.append("tspan").attr("x",cx).attr("y",28+i*26.5).text(l));
}
title(titleLeft,367);
title(titleRight,1062);

const yAxis=svg.append("g").attr("transform","translate(97,0.7)")
  .call(d3.axisLeft(y).tickValues(yTicks).tickSize(0).tickPadding(6).tickFormat((d,i)=>yTickLabels[i]));
yAxis.select(".domain").remove();
yAxis.selectAll("text").attr("fill",grey).attr("font-size",14.5).style("font-family",'"Inter","Liberation Sans",sans-serif');
const xAxis=svg.append("g").attr("transform","translate(0,590)")
  .call(d3.axisBottom(x).tickValues(xTicks.map(parse)).tickSize(0).tickPadding(6).tickFormat(d3.utcFormat("%b %Y")));
xAxis.select(".domain").remove();
xAxis.selectAll("text").attr("fill",grey).attr("font-size",13).style("font-family",'"Inter","Liberation Sans",sans-serif');
svg.append("line").attr("x1",97).attr("x2",97).attr("y1",y(282000)).attr("y2",590).attr("stroke","#eeeeee");
svg.append("line").attr("x1",97).attr("x2",612).attr("y1",y(0)).attr("y2",y(0)).attr("stroke","#c8c8c8").attr("stroke-dasharray","1,2");

svg.append("text").attr("transform","translate(22,347) rotate(-90)").attr("text-anchor","middle").attr("fill",grey).attr("font-size",17.3).text("14-day moving average tests performed per day");
svg.append("text").attr("x",361).attr("y",636).attr("text-anchor","middle").attr("fill",grey).attr("font-size",17.5).text("Date");

const bandOf=d=>bandBreaks.filter(b=>b[0]<=d).pop()[1];
const line=d3.line().x(p=>x(dateOf(p[0]))).y(p=>y(p[1]));
const segs=[];
days.forEach((d,i)=>{
  const p=[d,tests[i]],b=bandOf(d),last=segs[segs.length-1];
  if(last&&last.band===b) last.pts.push(p);
  else segs.push({band:b,pts:i?[[days[i-1],tests[i-1]],p]:[p]});
});
svg.append("g").selectAll("path").data(segs).join("path")
  .attr("d",s=>line(s.pts)).attr("fill","none").attr("stroke",s=>color(s.band))
  .attr("stroke-width",3.8).attr("stroke-linecap","round").attr("stroke-linejoin","round");

// legend
svg.append("text").attr("x",669).attr("y",443).attr("font-size",16.3).attr("font-weight",800).attr("fill","#333").text("Test Positivity");
const lg=svg.append("g").selectAll("g").data(bands).join("g").attr("transform",(d,i)=>`translate(670,${457+i*25})`);
lg.append("rect").attr("width",15).attr("height",15).attr("fill",d=>color(d));
lg.append("text").attr("x",22).attr("y",(d,i)=>12+i*.5).attr("font-size",14).attr("fill","#555").text(d=>d);

// map
const projection=d3.geoMercator().scale(360).translate([943.5,351]);
const ring=d3.line().x(p=>projection(p)[0]).y(p=>projection(p)[1]).curve(d3.curveLinearClosed);
const features=[...lowBand.map(c=>[c,bandColors[0]]),...midBand.map(c=>[c,bandColors[1]]),...highBand.map(c=>[c,bandColors[2]]),...noDataBand.map(c=>[c,"#eef1f3"])];
// enclosed states last so their outline stays visible
features.sort((a,b)=>(a[0]===lesotho||a[0]===eswatini)-(b[0]===lesotho||b[0]===eswatini));
svg.append("g").selectAll("path").data(features).join("path")
  .attr("d",f=>ring(f[0])).attr("fill",f=>f[1])
  .attr("stroke",f=>smallIslands.includes(f[0])?"none":"#fff").attr("stroke-width",1.1).attr("stroke-linejoin","round");
</script></body></html>
